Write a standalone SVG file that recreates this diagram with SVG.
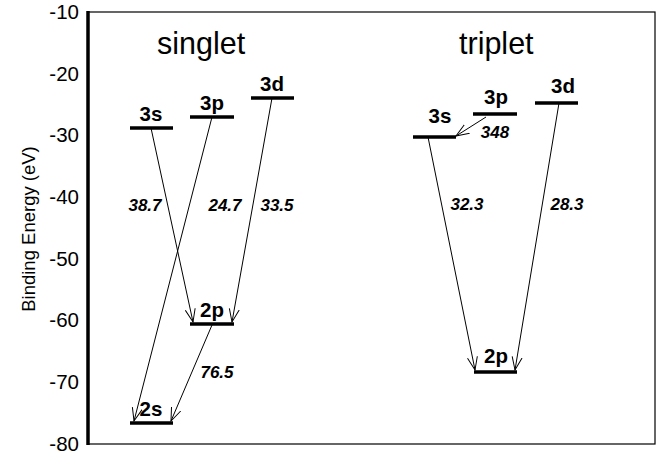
<svg xmlns="http://www.w3.org/2000/svg" width="660" height="458" viewBox="0 0 660 458">
<defs>
<style>
text { font-family: "Liberation Sans", Arial, Helvetica, sans-serif; fill: #000; }
.tick { font-size: 20.5px; text-anchor: end; }
.axt { font-size: 18.5px; text-anchor: middle; }
.title { font-size: 30.5px; }
.lvl { stroke: #000; stroke-width: 3.5; }
.lbl { font-size: 20.5px; font-weight: bold; text-anchor: middle; }
.num { font-size: 17px; font-weight: bold; font-style: italic; text-anchor: middle; }
.arr { stroke: #000; stroke-width: 1; fill: none; marker-end: url(#ah); }
</style>
<marker id="ah" markerUnits="userSpaceOnUse" markerWidth="15" markerHeight="12" refX="13" refY="5" orient="auto" viewBox="0 0 15 10">
<path d="M0,0 L13,5 L0,10" fill="none" stroke="#000" stroke-width="1"/>
</marker>
</defs>
<rect width="660" height="458" fill="#fff"/>
<g id="axes">
<rect x="88" y="12" width="567" height="432" fill="none" stroke="#000" stroke-width="1.2"/>
<line x1="88" y1="11" x2="88" y2="445" stroke="#000" stroke-width="3.5"/>
<text class="tick" x="79" y="19">-10</text>
<text class="tick" x="79" y="81">-20</text>
<text class="tick" x="79" y="142">-30</text>
<text class="tick" x="79" y="204">-40</text>
<text class="tick" x="79" y="266">-50</text>
<text class="tick" x="79" y="327">-60</text>
<text class="tick" x="79" y="389">-70</text>
<text class="tick" x="79" y="451">-80</text>
<text class="axt" transform="translate(35,229) rotate(-90)">Binding Energy (eV)</text>
</g>
<text class="title" x="157" y="54">singlet</text>
<text class="title" x="459" y="54">triplet</text>
<g id="singlet-3s"><line class="lvl" x1="130" y1="128" x2="173" y2="128"/><text class="lbl" x="151" y="121">3s</text></g>
<g id="singlet-3p"><line class="lvl" x1="190" y1="117" x2="234" y2="117"/><text class="lbl" x="212" y="110">3p</text></g>
<g id="singlet-3d"><line class="lvl" x1="251" y1="98" x2="294" y2="98"/><text class="lbl" x="272" y="91">3d</text></g>
<g id="singlet-2p"><line class="lvl" x1="190" y1="324" x2="234" y2="324"/><text class="lbl" x="212" y="317">2p</text></g>
<g id="singlet-2s"><line class="lvl" x1="130" y1="423" x2="173" y2="423"/><text class="lbl" x="151" y="416">2s</text></g>
<g id="triplet-3s"><line class="lvl" x1="413" y1="137" x2="456" y2="137"/><text class="lbl" x="440" y="123">3s</text></g>
<g id="triplet-3p"><line class="lvl" x1="473" y1="114" x2="517" y2="114"/><text class="lbl" x="496" y="104">3p</text></g>
<g id="triplet-3d"><line class="lvl" x1="535" y1="103" x2="578" y2="103"/><text class="lbl" x="563" y="93">3d</text></g>
<g id="triplet-2p"><line class="lvl" x1="474" y1="372" x2="517" y2="372"/><text class="lbl" x="496" y="363">2p</text></g>
<g id="connectors">
<line class="arr" x1="151" y1="128" x2="193" y2="322"/>
<line class="arr" x1="212" y1="117" x2="134" y2="421"/>
<line class="arr" x1="272" y1="98" x2="232" y2="322"/>
<line class="arr" x1="212" y1="325" x2="171" y2="421"/>
<line class="arr" x1="486" y1="117" x2="456" y2="136"/>
<line class="arr" x1="428" y1="137" x2="475" y2="370"/>
<line class="arr" x1="559" y1="103" x2="515" y2="370"/>
<text class="num" x="145" y="211">38.7</text>
<text class="num" x="225" y="211">24.7</text>
<text class="num" x="277" y="211">33.5</text>
<text class="num" x="217" y="378">76.5</text>
<text class="num" x="495" y="138">348</text>
<text class="num" x="467" y="210">32.3</text>
<text class="num" x="567" y="210">28.3</text>
</g>
</svg>
